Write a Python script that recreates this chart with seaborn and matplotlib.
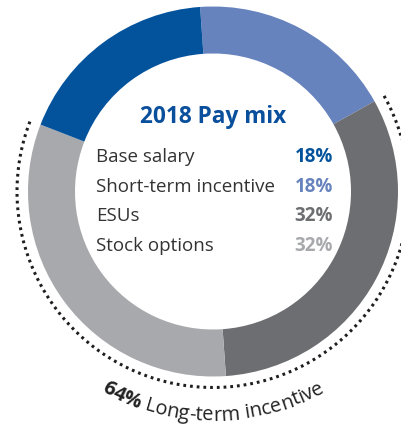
import numpy as np
import matplotlib
matplotlib.use("Agg")
import matplotlib.pyplot as plt
import seaborn as sns

# data
categories = ["Base salary", "Short-term incentive", "ESUs", "Stock options"]
shares = [18, 18, 32, 32]
seg_colors = ["#03529c", "#6783be", "#6d6e72", "#a8a9ad"]
ring_order = [1, 2, 3, 0]          # clockwise from the top
long_term = ["ESUs", "Stock options"]
title = "2018 Pay mix"
lt_label_bold = "64%"
lt_label = " Long-term incentive"

sns.set_theme(style="white")
plt.rcParams["font.family"] = ["Open Sans", "DejaVu Sans"]

W, H = 401, 427
cx, cy = 213, 192.5
fig = plt.figure(figsize=(W / 100, H / 100), dpi=100)
ax = fig.add_axes([0, 0, 1, 1])

start = 94
vals = [shares[i] for i in ring_order]
cols = [seg_colors[i] for i in ring_order]
ax.pie(vals, colors=cols, radius=185, center=(0, 0), startangle=start,
       counterclock=False, wedgeprops=dict(width=47, edgecolor="none"))

# dotted arc around the long-term part
total = sum(shares)
cum = 0
spans = {}
for i in ring_order:
    a0 = start - cum / total * 360
    cum += shares[i]
    spans[categories[i]] = (a0, start - cum / total * 360)
a_start = spans[long_term[0]][0]
a_end = spans[long_term[-1]][1]
th = np.radians(np.linspace(a_start, a_end, 300))
ax.plot(196 * np.cos(th), 196 * np.sin(th), color="#1e1e1e", lw=2.2,
        dashes=(0.9, 1.3), dash_capstyle="butt")

# centre text
ax.text(0, 69.5, title, ha="center", va="baseline", fontsize=16.3,
        fontweight="bold", color="#0a4f9c")
row_y = [30.5, 0.5, -28.5, -58.5]
for cat, s, c, y in zip(categories, shares, seg_colors, row_y):
    ax.text(-117, y, cat, ha="left", va="baseline", fontsize=13.5, color="#333333")
    ax.text(120, y, f"{s}%", ha="right", va="baseline", fontsize=13.5,
            fontweight="bold", color=c)

ax.set_xlim(-cx, W - cx)
ax.set_ylim(-(H - cy), cy)
ax.set_aspect("equal")
ax.axis("off")

# curved label along the bottom
fs_lt = 14.5
r_base = 228
renderer = fig.canvas.get_renderer()
chars = [(ch, "bold") for ch in lt_label_bold] + [(ch, "normal") for ch in lt_label]
widths = []
for ch, wt in chars:
    t = ax.text(0, 0, ch if ch != " " else "a a", fontsize=fs_lt, fontweight=wt)
    w = t.get_window_extent(renderer).width
    if ch == " ":
        t2 = ax.text(0, 0, "aa", fontsize=fs_lt, fontweight=wt)
        w = w - t2.get_window_extent(renderer).width
        t2.remove()
    t.remove()
    widths.append(w)
tot = sum(widths)
ang = 270 - np.degrees(tot / 2 / r_base)
for (ch, wt), w in zip(chars, widths):
    mid = ang + np.degrees(w / 2 / r_base)
    a = np.radians(mid)
    ax.text(r_base * np.cos(a), r_base * np.sin(a), ch, ha="center", va="baseline",
            rotation=mid - 270, rotation_mode="anchor", fontsize=fs_lt,
            fontweight=wt, color="#222222")
    ang += np.degrees(w / r_base)

fig.savefig("out.png", dpi=100)
